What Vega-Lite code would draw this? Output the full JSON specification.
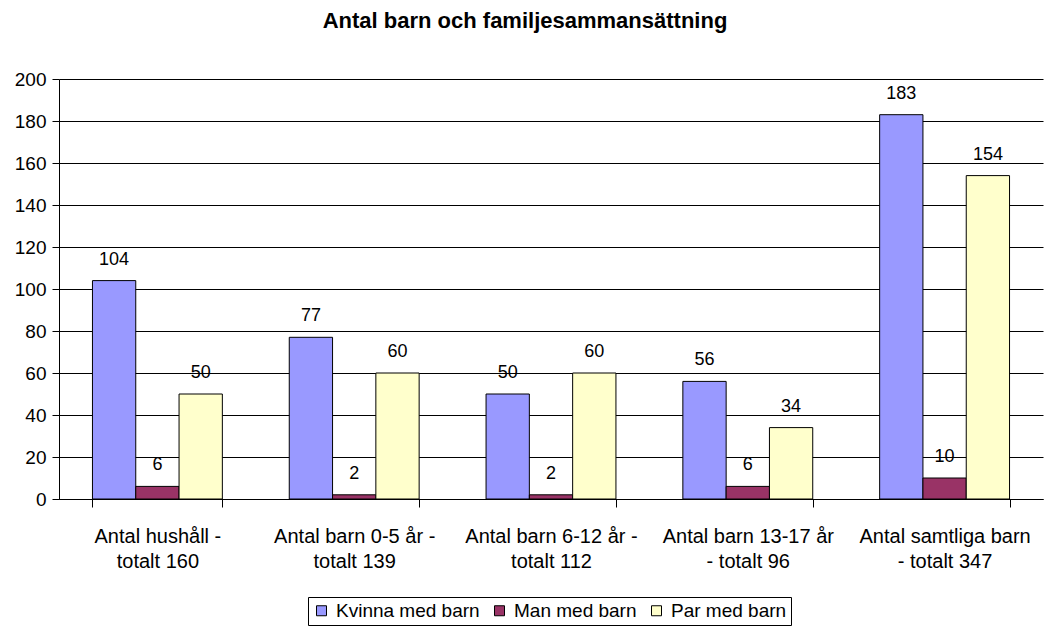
{
  "$schema": "https://vega.github.io/schema/vega-lite/v6.json",
  "width": 984,
  "height": 420,
  "autosize": {"type": "none"},
  "padding": {"left": 59, "top": 79, "right": 1, "bottom": 129},
  "background": "white",
  "config": {
    "font": "Liberation Sans",
    "view": {"stroke": null},
    "axisX": {"ticks": true, "tickSize": 8, "tickColor": "black", "tickWidth": 1}
  },
  "title": {
    "text": "Antal barn och familjesammansättning",
    "font": "Liberation Sans",
    "fontSize": 22,
    "fontWeight": "bold",
    "color": "black",
    "anchor": "middle",
    "frame": "group",
    "baseline": "alphabetic",
    "offset": 20,
    "dx": -26
  },
  "data": {
    "values": [
      {"category": "Antal hushåll - totalt 160", "series": "Kvinna med barn", "value": 104},
      {"category": "Antal hushåll - totalt 160", "series": "Man med barn", "value": 6},
      {"category": "Antal hushåll - totalt 160", "series": "Par med barn", "value": 50},
      {"category": "Antal barn 0-5 år - totalt 139", "series": "Kvinna med barn", "value": 77},
      {"category": "Antal barn 0-5 år - totalt 139", "series": "Man med barn", "value": 2},
      {"category": "Antal barn 0-5 år - totalt 139", "series": "Par med barn", "value": 60},
      {"category": "Antal barn 6-12 år - totalt 112", "series": "Kvinna med barn", "value": 50},
      {"category": "Antal barn 6-12 år - totalt 112", "series": "Man med barn", "value": 2},
      {"category": "Antal barn 6-12 år - totalt 112", "series": "Par med barn", "value": 60},
      {"category": "Antal barn 13-17 år - totalt 96", "series": "Kvinna med barn", "value": 56},
      {"category": "Antal barn 13-17 år - totalt 96", "series": "Man med barn", "value": 6},
      {"category": "Antal barn 13-17 år - totalt 96", "series": "Par med barn", "value": 34},
      {"category": "Antal samtliga barn - totalt 347", "series": "Kvinna med barn", "value": 183},
      {"category": "Antal samtliga barn - totalt 347", "series": "Man med barn", "value": 10},
      {"category": "Antal samtliga barn - totalt 347", "series": "Par med barn", "value": 154}
    ]
  },
  "encoding": {
    "x": {
      "field": "category",
      "type": "nominal",
      "sort": null,
      "scale": {"paddingInner": 0.34, "paddingOuter": 0.17},
      "axis": {
        "title": null,
        "zindex": 1,
        "labelAngle": 0,
        "labelFont": "Liberation Sans",
        "labelFontSize": 20,
        "labelColor": "black",
        "labelBaseline": "top",
        "labelPadding": 19,
        "labelLineHeight": 25,
        "labelLimit": 300,
        "ticks": true,
        "tickBand": "extent",
        "tickSize": 8,
        "tickWidth": 1,
        "tickColor": "#000000",
        "tickOpacity": 1,
        "domainColor": "black",
        "grid": false,
        "labelExpr": "datum.label ? (length(split(datum.label,' - ')[0]) <= 18 ? [split(datum.label,' - ')[0] + ' -', split(datum.label,' - ')[1]] : [split(datum.label,' - ')[0], '- ' + split(datum.label,' - ')[1]]) : ''"
      }
    },
    "xOffset": {"field": "series", "type": "nominal", "scale": {"paddingInner": 0, "paddingOuter": 0}},
    "y": {
      "field": "value",
      "type": "quantitative",
      "scale": {"domain": [0, 200], "nice": false},
      "axis": {
        "title": null,
        "values": [0, 20, 40, 60, 80, 100, 120, 140, 160, 180, 200],
        "labelFont": "Liberation Sans",
        "labelFontSize": 19,
        "labelColor": "black",
        "labelPadding": 6,
        "tickSize": 7,
        "tickColor": "black",
        "domainColor": "black",
        "gridColor": "black",
        "gridOpacity": 1,
        "gridWidth": 1
      }
    }
  },
  "layer": [
    {
      "mark": {"type": "bar", "stroke": "black", "strokeWidth": 1},
      "encoding": {
        "color": {
          "field": "series",
          "type": "nominal",
          "scale": {
            "domain": ["Kvinna med barn", "Man med barn", "Par med barn"],
            "range": ["#9999FF", "#993366", "#FFFFCC"]
          },
          "legend": {
            "title": null,
            "orient": "none",
            "direction": "horizontal",
            "legendX": 249,
            "legendY": 518,
            "labelFont": "Liberation Sans",
            "labelFontSize": 19,
            "labelColor": "black",
            "symbolType": "square",
            "symbolSize": 100,
            "symbolStrokeColor": "black",
            "symbolStrokeWidth": 1,
            "strokeColor": "black",
            "padding": 4,
            "columnPadding": 10,
            "labelOffset": 5,
            "fillColor": "white"
          }
        }
      }
    },
    {
      "mark": {"type": "text", "font": "Liberation Sans", "fontSize": 18, "color": "black", "baseline": "middle", "dy": -21},
      "encoding": {
        "text": {"field": "value", "type": "quantitative"}
      }
    }
  ]
}
